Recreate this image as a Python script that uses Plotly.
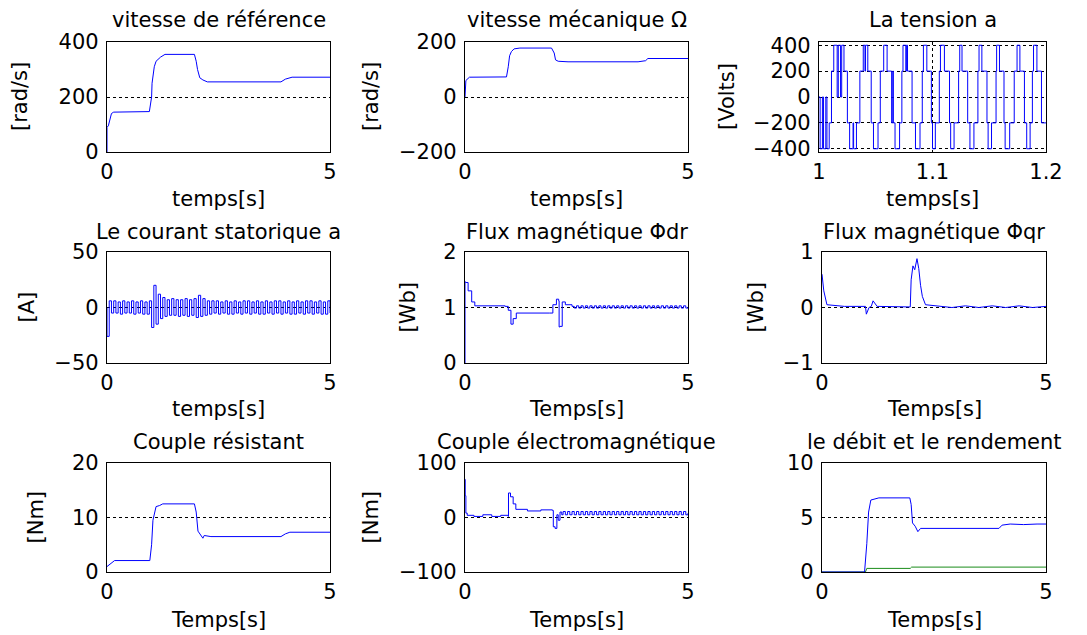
import plotly.graph_objects as go

W, H = 1087, 635
OFF = 8  # body margin of the html page
FW, FH = W - OFF, H - OFF
FONT = "DejaVu Sans"
BLUE = "#0000ff"
GREEN = "#1a8c1a"

# vitesse de reference [rad/s]
ref_t = [0, 0, 0.03, 0.06, 0.1, 0.15, 0.95, 1.0, 1.01, 1.06, 1.1, 1.2, 1.3, 1.96, 2.0, 2.03, 2.08, 2.15, 2.25, 3.9, 4.0, 4.15, 5.0]
ref_w = [0, 90, 95, 120, 140, 145, 147, 200, 250, 310, 330, 345, 355, 355, 330, 300, 270, 262, 255, 255, 265, 272, 272]

# vitesse mecanique [rad/s]
mec_t = [0, 0.01, 0.02, 0.1, 0.93, 0.97, 1.0, 1.04, 1.1, 1.23, 1.94, 2.0, 2.03, 2.09, 2.31, 3.88, 4.05, 4.1, 5.0]
mec_w = [0, 40, 60, 72, 73, 110, 150, 165, 175, 178, 178, 160, 135, 130, 128, 128, 132, 140, 140]

# tension phase a [V] (steps)
va_t = [1.000, 1.001, 1.003, 1.004, 1.006, 1.007, 1.009, 1.011, 1.013, 1.016, 1.017, 1.019, 1.020, 1.022,
        1.025, 1.027, 1.030, 1.0305, 1.033, 1.036, 1.039, 1.0405, 1.041, 1.043, 1.046, 1.048, 1.052,
        1.054, 1.057, 1.060, 1.064, 1.065, 1.0655, 1.067, 1.071, 1.073, 1.074, 1.0765, 1.077, 1.078,
        1.082, 1.085, 1.089, 1.091, 1.092, 1.095, 1.099, 1.100, 1.1025, 1.106, 1.107, 1.1105, 1.115,
        1.116, 1.119, 1.123, 1.124, 1.126, 1.131, 1.133, 1.1365, 1.140, 1.141, 1.1435, 1.148, 1.149,
        1.152, 1.156, 1.1565, 1.159, 1.163, 1.164, 1.168, 1.172, 1.1745, 1.177, 1.181, 1.183, 1.186,
        1.188, 1.189, 1.192, 1.196, 1.200]
va_v = [0, -400, 0, -400, 0, -400, -200, 200, 400, 0, 400, 0, 400, 200,
        -200, -400, -200, -400, -200, 200, 400, 200, 400, 200, -200, -400, -200,
        200, 400, 200, -200, 200, -200, -400, -200, 200, 400, 200, 400, 200,
        -200, -400, -200, 200, 400, 200, -200, -400, -200, 200, 400, 200, -200,
        -400, -200, 200, 400, 200, -200, -400, -200, 200, 400, 200, -200, -400,
        -200, 200, 400, 200, -200, -400, -200, 200, 400, 200, -200, -400, -200,
        200, 400, 200, -200, -200]

# courant statorique a [A]
ia_t = [0, 0, 0.05, 0.10, 0.15, 0.20, 0.25, 0.30, 0.35, 0.40, 0.45, 0.50, 0.55, 0.60, 0.65, 0.70, 0.75,
        0.80, 0.85, 0.90, 0.95, 1.00, 1.05, 1.10, 1.15, 1.20, 1.25, 1.30, 1.35, 1.40, 1.45, 1.50, 1.55,
        1.60, 1.65, 1.70, 1.75, 1.80, 1.85, 1.90, 1.95, 2.00, 2.05, 2.10, 2.15, 2.20, 2.25, 2.30, 2.35,
        2.40, 2.45, 2.50, 2.55, 2.60, 2.65, 2.70, 2.75, 2.80, 2.85, 2.90, 2.95, 3.00, 3.05, 3.10, 3.15,
        3.20, 3.25, 3.30, 3.35, 3.40, 3.45, 3.50, 3.55, 3.60, 3.65, 3.70, 3.75, 3.80, 3.85, 3.90, 3.95,
        4.00, 4.05, 4.10, 4.15, 4.20, 4.25, 4.30, 4.35, 4.40, 4.45, 4.50, 4.55, 4.60, 4.65, 4.70, 4.75,
        4.80, 4.85, 4.90, 4.95, 5.00]
ia_v = [0, -26, 6, -5, 6, -5, 5, -6, 6, -5, 5, -5, 6, -6, 5, -5, 6,
        -6, 5, -6, 6, -18, 20, -15, 12, -10, 9, -8, 7, -7, 8, -7, 7,
        -8, 7, -7, 8, -8, 7, -7, 8, -9, 11, -8, 8, -7, 6, -6, 6,
        -5, 6, -6, 5, -5, 6, -6, 5, -6, 6, -5, 5, -6, 6, -5, 6,
        -6, 5, -5, 6, -6, 5, -6, 6, -5, 5, -6, 6, -5, 6, -6, 5,
        -5, 6, -6, 5, -6, 6, -5, 5, -6, 6, -5, 6, -6, 5, -5, 6,
        -6, 5, -6, 6, -5]

# flux rotorique d [Wb]
phid_t = [0, 0, 0.02, 0.07, 0.15, 0.22, 0.9, 0.97, 1.03, 1.08, 1.15, 1.89, 1.97, 2.05, 2.1, 2.11, 2.13, 2.18, 2.25, 2.4,
          2.45, 2.5, 2.55, 2.6, 2.65, 2.7, 2.75, 2.8, 2.85, 2.9, 2.95, 3.0, 3.05, 3.1, 3.15, 3.2, 3.25, 3.3, 3.35,
          3.4, 3.45, 3.5, 3.55, 3.6, 3.65, 3.7, 3.75, 3.8, 3.85, 3.9, 3.95, 4.0, 4.05, 4.1, 4.15, 4.2, 4.25, 4.3,
          4.35, 4.4, 4.45, 4.5, 4.55, 4.6, 4.65, 4.7, 4.75, 4.8, 4.85, 4.9, 4.95, 5.0]
phid_v = [0, 1.46, 1.45, 1.3, 1.1, 1.03, 1.02, 0.95, 0.7, 0.8, 0.9, 0.9, 1.05, 1.15, 1.12, 0.65, 0.66, 1.1, 1.05, 1.02,
          0.99, 1.03, 0.99, 1.03, 0.99, 1.03, 0.99, 1.03, 0.99, 1.03, 0.99, 1.03, 0.99, 1.03, 0.99, 1.03, 0.99, 1.03,
          0.99, 1.03, 0.99, 1.03, 0.99, 1.03, 0.99, 1.03, 0.99, 1.03, 0.99, 1.03, 0.99, 1.03, 0.99, 1.03, 0.99, 1.03,
          0.99, 1.03, 0.99, 1.03, 0.99, 1.03, 0.99, 1.03, 0.99, 1.03, 0.99, 1.03, 0.99, 1.03, 0.99, 1.01]

# flux rotorique q [Wb]
phiq_t = [0, 0.04, 0.11, 0.5, 0.97, 0.99, 1.05, 1.1, 1.14, 1.23, 1.97, 1.99, 2.03, 2.07, 2.12, 2.16, 2.2, 2.24, 2.31,
          2.6, 2.9, 3.2, 3.5, 3.8, 4.1, 4.4, 4.7, 5.0]
phiq_v = [0.6, 0.3, 0.05, 0.02, 0.02, -0.12, 0.0, 0.02, 0.12, 0.02, 0.01, 0.5, 0.75, 0.68, 0.88, 0.7, 0.4, 0.2, 0.05,
          0.03, 0.0, 0.03, 0.0, 0.03, 0.0, 0.03, 0.0, 0.02]

# couple resistant [Nm]
cr_t = [0, 0.17, 0.96, 1.0, 1.03, 1.1, 1.18, 1.25, 1.96, 2.0, 2.04, 2.08, 2.15, 2.18, 2.33, 3.9, 4.0, 4.1, 5.0]
cr_v = [1.0, 2.1, 2.1, 5.0, 9.5, 12.0, 12.2, 12.5, 12.5, 11.0, 7.5, 7.0, 6.2, 6.7, 6.5, 6.5, 7.0, 7.3, 7.3]

# couple electromagnetique [Nm]
ce_t = [0, 0.005, 0.02, 0.05, 0.2, 0.4, 0.6, 0.8, 0.97, 0.975, 1.02, 1.08, 1.14, 1.4, 1.7, 1.96, 1.98, 2.02,
        2.06, 2.09, 2.13, 2.17, 2.2, 2.25, 2.3, 2.35, 2.4, 2.45, 2.5, 2.55, 2.6, 2.65, 2.7, 2.75, 2.8, 2.85,
        2.9, 2.95, 3.0, 3.05, 3.1, 3.15, 3.2, 3.25, 3.3, 3.35, 3.4, 3.45, 3.5, 3.55, 3.6, 3.65, 3.7, 3.75,
        3.8, 3.85, 3.9, 3.95, 4.0, 4.05, 4.1, 4.15, 4.2, 4.25, 4.3, 4.35, 4.4, 4.45, 4.5, 4.55, 4.6, 4.65,
        4.7, 4.75, 4.8, 4.85, 4.9, 4.95, 5.0]
ce_v = [70, 40, 8, 4, 2, 5, 2, 4, 2, 45, 38, 25, 15, 12, 14, 13, -17, -20, 5, -5, 10, 5, 11, 5, 11, 5, 11, 5,
        11, 5, 11, 5, 11, 5, 11, 5, 11, 5, 11, 5, 11, 5, 11, 5, 11, 5, 11, 5, 11, 5, 11, 5, 11, 5, 11, 5,
        11, 5, 11, 5, 11, 5, 11, 5, 11, 5, 11, 5, 11, 5, 11, 5, 11, 5, 11, 5, 11, 5, 8]

# debit (bleu) et rendement (vert)
q_t = [0, 0.95, 1.0, 1.04, 1.09, 1.27, 1.96, 1.99, 2.02, 2.08, 2.14, 2.2, 3.95, 4.02, 4.2, 4.5, 4.8, 5.0]
q_v = [0, 0, 2.6, 5.5, 6.6, 6.8, 6.8, 6.2, 4.5, 4.2, 3.7, 4.0, 4.0, 4.3, 4.4, 4.35, 4.4, 4.4]
eta_t = [0, 0.97, 1.0, 1.97, 2.0, 5.0]
eta_v = [0, 0, 0.33, 0.33, 0.45, 0.45]

titles = ["vitesse de référence", "vitesse mécanique Ω", "La tension a",
          "Le courant statorique a", "Flux magnétique Φdr", "Flux magnétique Φqr",
          "Couple résistant", "Couple électromagnétique", "le débit et le rendement"]
xlabels = ["temps[s]", "temps[s]", "temps[s]", "temps[s]", "Temps[s]", "Temps[s]",
           "Temps[s]", "Temps[s]", "Temps[s]"]
ylabels = ["[rad/s]", "[rad/s]", "[Volts]", "[A]", "[Wb]", "[Wb]", "[Nm]", "[Nm]", ""]
yranges = [[0, 400], [-200, 200], [-425, 425], [-50, 50], [0, 2], [-1, 1], [0, 20], [-100, 100], [0, 10]]
yticks = [[0, 200, 400], [-200, 0, 200], [-400, -200, 0, 200, 400], [-50, 0, 50], [0, 1, 2], [-1, 0, 1],
          [0, 10, 20], [-100, 0, 100], [0, 5, 10]]

# pixel boxes of each panel in the window (x0, x1, y0, y1)
boxes = [(107, 330, 42, 152), (465, 688, 42, 152), (819, 1046, 42, 152),
         (107, 330, 252, 363), (465, 688, 252, 363), (822, 1046, 252, 363),
         (107, 330, 463, 572), (465, 688, 463, 572), (822, 1046, 463, 572)]
title_y = [20, 20, 20, 232, 232, 232, 442, 442, 442]
xlab_y = [199, 199, 199, 409, 409, 409, 620, 620, 620]
ylab_x = [20, 371, 727, 26, 407, 755, 35, 370, 0]


def px(x):
    return (x - OFF) / FW


def py(y):
    return 1 - (y - OFF) / FH


series = [
    [(ref_t, ref_w, BLUE, "linear")],
    [(mec_t, mec_w, BLUE, "linear")],
    [(va_t, va_v, BLUE, "hv")],
    [(ia_t, ia_v, BLUE, "hv")],
    [(phid_t, phid_v, BLUE, "hv")],
    [(phiq_t, phiq_v, BLUE, "linear")],
    [(cr_t, cr_v, BLUE, "linear")],
    [(ce_t, ce_v, BLUE, "hv")],
    [(eta_t, eta_v, GREEN, "linear"), (q_t, q_v, BLUE, "linear")],
]

fig = go.Figure()
ann = []
for i in range(9):
    n = "" if i == 0 else str(i + 1)
    x0, x1, y0, y1 = boxes[i]
    for xs, ys, col, shp in series[i]:
        fig.add_trace(go.Scatter(x=xs, y=ys, mode="lines", line=dict(color=col, width=1, shape=shp),
                                 xaxis="x" + n, yaxis="y" + n, showlegend=False))
    if i == 2:
        xr, xt, xtt = [1, 1.2], [1, 1.1, 1.2], ["1", "1.1", "1.2"]
    else:
        xr, xt, xtt = [0, 5], [0, 5], ["0", "5"]
    common = dict(showline=True, mirror=True, linecolor="black", linewidth=1.2,
                  showgrid=True, gridcolor="black", griddash="dot", gridwidth=0.8,
                  zeroline=False, ticks="", tickfont=dict(family=FONT, size=21, color="black"))
    fig.layout["xaxis" + n] = dict(domain=[px(x0), px(x1)], anchor="y" + n, range=xr,
                                   tickvals=xt, ticktext=xtt, ticklabelstandoff=1, **common)
    fig.layout["yaxis" + n] = dict(domain=[py(y1), py(y0)], anchor="x" + n, range=yranges[i],
                                   tickvals=yticks[i], ticklabelstandoff=3, **common)
    cx = px((x0 + x1) / 2)
    ann.append(dict(text=titles[i], x=cx, y=py(title_y[i]), xref="paper", yref="paper",
                    showarrow=False, xanchor="center", yanchor="middle",
                    font=dict(family=FONT, size=21, color="black")))
    ann.append(dict(text=xlabels[i], x=cx, y=py(xlab_y[i]), xref="paper", yref="paper",
                    showarrow=False, xanchor="center", yanchor="middle",
                    font=dict(family=FONT, size=21, color="black")))
    if ylabels[i]:
        ann.append(dict(text=ylabels[i], x=px(ylab_x[i]), y=py((y0 + y1) / 2), xref="paper", yref="paper",
                        showarrow=False, xanchor="center", yanchor="middle", textangle=-90,
                        font=dict(family=FONT, size=21, color="black")))

fig.update_layout(width=FW, height=FH, margin=dict(l=0, r=0, t=0, b=0, autoexpand=False),
                  paper_bgcolor="white", plot_bgcolor="white", annotations=ann)
fig.write_html("out.html")
